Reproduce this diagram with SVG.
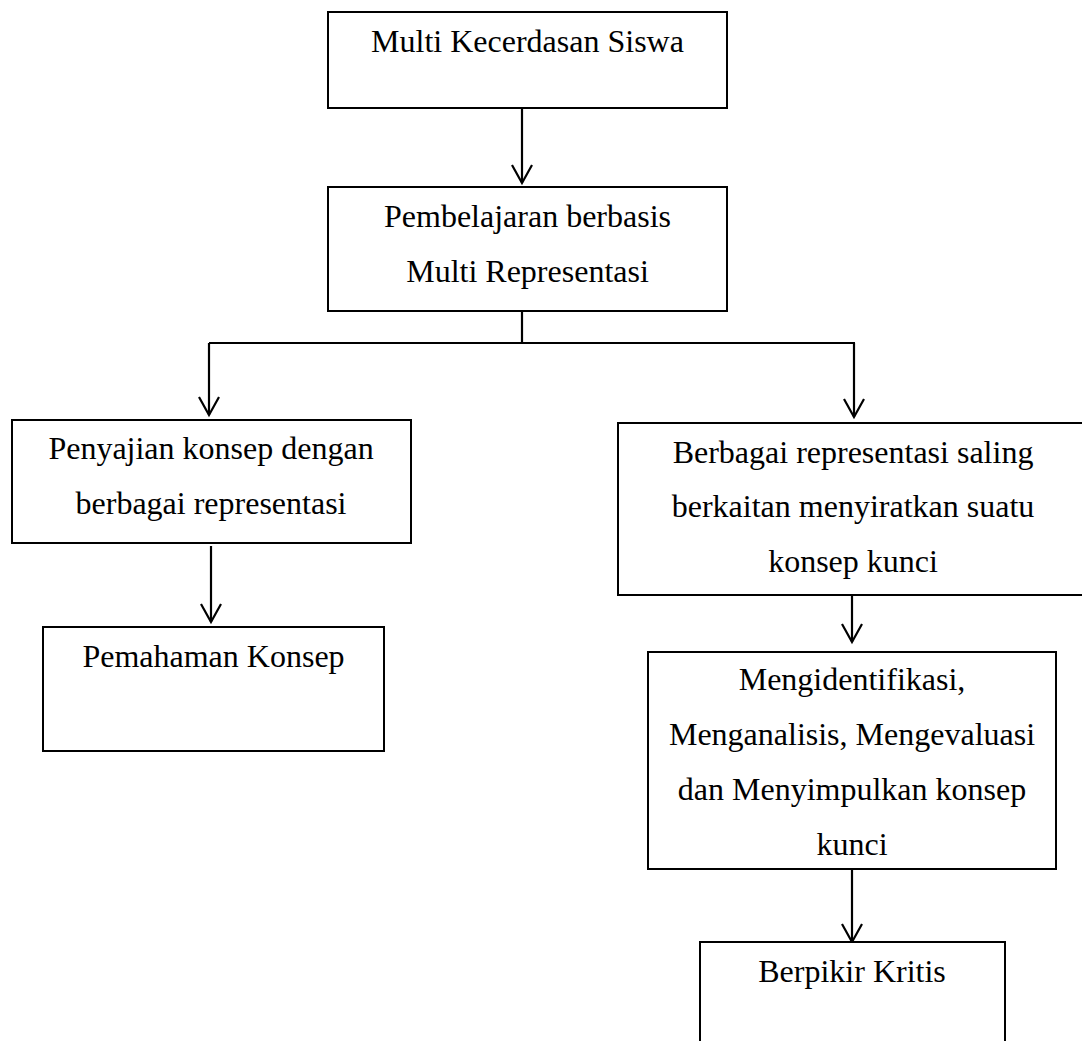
<svg xmlns="http://www.w3.org/2000/svg" width="1082" height="1041" viewBox="0 0 1082 1041">
<style>
.box{fill:#fff;stroke:#000;stroke-width:2}
.t{font-family:"Liberation Serif","Times New Roman",serif;font-size:32px;fill:#000;text-anchor:middle}
.c{fill:none;stroke:#000;stroke-width:2.2}
</style>
<defs>
<marker id="ah" viewBox="-20 -12 24 24" refX="0" refY="0" markerWidth="24" markerHeight="24" markerUnits="userSpaceOnUse" orient="auto" overflow="visible">
<path d="M-18,-10 L0,0 L-18,10" fill="none" stroke="#000" stroke-width="2.2"/>
</marker>
</defs>
<rect width="1082" height="1041" fill="#fff"/>
<g id="connectors">
<line class="c" x1="522" y1="108" x2="522" y2="183" marker-end="url(#ah)"/>
<polyline class="c" points="522,311 522,343"/>
<polyline class="c" points="209,343 855,343"/>
<line class="c" x1="209" y1="343" x2="209" y2="415" marker-end="url(#ah)"/>
<line class="c" x1="854" y1="343" x2="854" y2="417" marker-end="url(#ah)"/>
<line class="c" x1="211" y1="546" x2="211" y2="622" marker-end="url(#ah)"/>
<line class="c" x1="852" y1="595" x2="852" y2="642" marker-end="url(#ah)"/>
<line class="c" x1="852" y1="867" x2="852" y2="942" marker-end="url(#ah)"/>
</g>
<g id="n1"><rect class="box" x="328" y="12" width="399" height="96"/><text class="t" x="527.5" y="52">Multi Kecerdasan Siswa</text></g>
<g id="n2"><rect class="box" x="328" y="187" width="399" height="124"/><text class="t" x="527.5" y="227">Pembelajaran berbasis</text><text class="t" x="527.5" y="282">Multi Representasi</text></g>
<g id="n3"><rect class="box" x="12" y="420" width="399" height="123"/><text class="t" x="211" y="459">Penyajian konsep dengan</text><text class="t" x="211" y="514">berbagai representasi</text></g>
<g id="n4"><rect class="box" x="43" y="627" width="341" height="124"/><text class="t" x="213.5" y="667">Pemahaman Konsep</text></g>
<g id="n5"><rect class="box" x="618" y="423" width="480" height="172"/><text class="t" x="853" y="463">Berbagai representasi saling</text><text class="t" x="853" y="517">berkaitan menyiratkan suatu</text><text class="t" x="853" y="572">konsep kunci</text></g>
<g id="n6"><rect class="box" x="648" y="652" width="408" height="217"/><text class="t" x="852" y="690">Mengidentifikasi,</text><text class="t" x="852" y="745">Menganalisis, Mengevaluasi</text><text class="t" x="852" y="800">dan Menyimpulkan konsep</text><text class="t" x="852" y="855">kunci</text></g>
<g id="n7"><rect class="box" x="700" y="942" width="305" height="120"/><text class="t" x="852" y="982">Berpikir Kritis</text></g>
</svg>
